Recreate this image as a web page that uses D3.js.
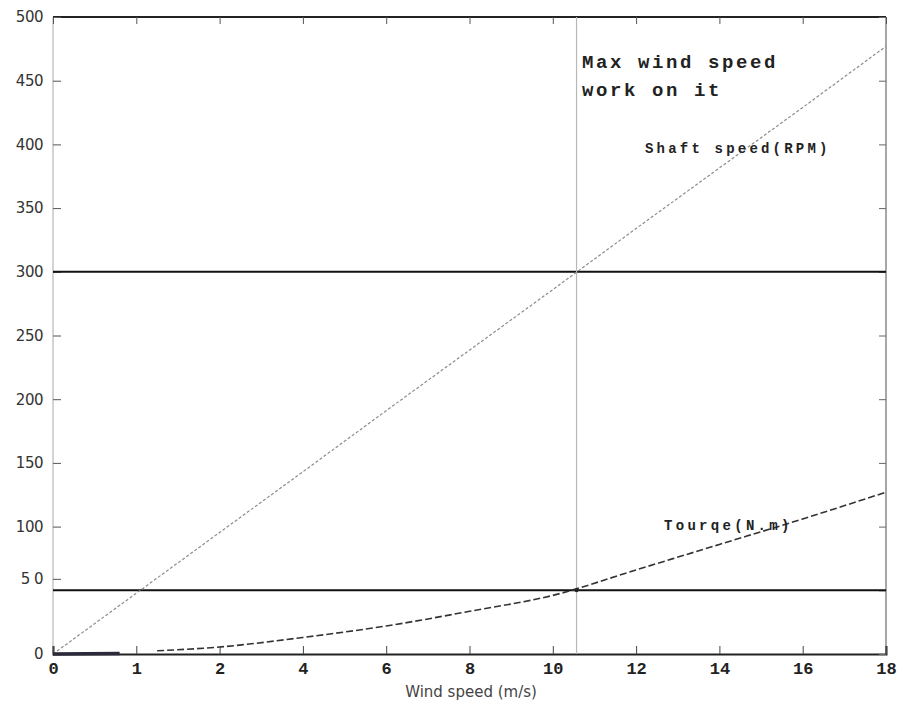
<!DOCTYPE html>
<html>
<head>
<meta charset="utf-8">
<script src="https://cdn.jsdelivr.net/npm/d3@7"></script>
<style>
  body { margin: 0; background: #fff; }
  svg { display: block; }
</style>
</head>
<body>
<div id="chart"></div>
<script>
// wind speed (m/s) where values were read
var shaftX = [0, 1, 2, 4, 6, 8, 10, 12, 14, 16, 18];
var shaftRPM = [0, 47.7, 95.4, 143, 191, 238.5, 286, 334, 381.5, 429, 477];

var torqueX = [0, 0.8, 1.25, 2, 4, 6, 8, 10, 12, 14, 16, 18];
var torqueNm = [0, 0.3, 2.5, 5.5, 13, 22, 33.5, 46, 66, 86, 106, 127];

var xTicks = [0, 1, 2, 4, 6, 8, 10, 12, 14, 16, 18];
var yTicksLeft = [0, 59, 100, 150, 200, 250, 300, 350, 400, 450, 500];
var yLabelsLeft = ["0", "5 0", "100", "150", "200", "250", "300", "350", "400", "450", "500"];
var yTicksRight = [0, 50, 100, 150, 200, 250, 300, 350, 400, 450, 500];

var maxWind = 10.57;
var hLines = [300, 50];

var margin = {top: 17, right: 14, bottom: 52, left: 53},
    width = 900 - margin.left - margin.right,
    height = 706 - margin.top - margin.bottom;

var svg = d3.select("#chart")
  .append("svg")
    .attr("width", 900)
    .attr("height", 706);

var g = svg.append("g")
  .attr("transform", "translate(" + margin.left + "," + margin.top + ")");

// first two intervals are 1 m/s wide, the rest 2 m/s
var x = d3.scaleLinear()
    .domain([0, 2, 18])
    .range([0, width * 0.2, width]);

var y = d3.scaleLinear()
    .domain([0, 500])
    .range([height, 0]);

// frame
g.append("line")
  .attr("x1", 0).attr("x2", 0).attr("y1", 0).attr("y2", height)
  .style("stroke", "#d4d4d4").style("stroke-width", 2);
g.append("line")
  .attr("x1", width).attr("x2", width).attr("y1", 0).attr("y2", height)
  .style("stroke", "#8a8a8a").style("stroke-width", 1.5);
g.append("line")
  .attr("x1", 0).attr("x2", width).attr("y1", 0).attr("y2", 0)
  .style("stroke", "#222").style("stroke-width", 2);

// bottom axis
var xAxis = g.append("g")
  .attr("transform", "translate(0," + height + ")")
  .call(d3.axisBottom(x).tickValues(xTicks).tickSize(-8).tickPadding(8).tickFormat(d3.format("d")));
xAxis.select(".domain").style("stroke", "#222").style("stroke-width", 2);
xAxis.selectAll(".tick line").style("stroke", "#444");
xAxis.selectAll("text")
  .style("font-family", "'Liberation Mono', 'DejaVu Sans Mono', monospace")
  .style("font-weight", "bold")
  .style("font-size", "17px")
  .style("fill", "#222");

// top ticks
g.append("g")
  .call(d3.axisTop(x).tickValues(xTicks).tickSize(-7).tickFormat(""))
  .call(function(a) { a.select(".domain").remove(); })
  .selectAll(".tick line").style("stroke", "#555");

// left axis
var yAxis = g.append("g")
  .call(d3.axisLeft(y).tickValues(yTicksLeft).tickSize(-8).tickPadding(10)
    .tickFormat(function(d, i) { return yLabelsLeft[i]; }));
yAxis.select(".domain").remove();
yAxis.selectAll(".tick line").style("stroke", "#555");
yAxis.selectAll("text")
  .style("font-family", "'DejaVu Sans', sans-serif")
  .style("font-size", "15px")
  .style("letter-spacing", "-0.5px")
  .style("fill", "#333");

// right ticks
g.append("g")
  .attr("transform", "translate(" + width + ",0)")
  .call(d3.axisRight(y).tickValues(yTicksRight).tickSize(-7).tickFormat(""))
  .call(function(a) { a.select(".domain").remove(); })
  .selectAll(".tick line").style("stroke", "#666");

// reference lines
g.selectAll(".hline")
  .data(hLines)
  .enter()
  .append("line")
    .attr("class", "hline")
    .attr("x1", 0).attr("x2", width)
    .attr("y1", function(d) { return y(d); })
    .attr("y2", function(d) { return y(d); })
    .style("stroke", "#111")
    .style("stroke-width", 2);

g.append("line")
  .attr("x1", x(maxWind)).attr("x2", x(maxWind))
  .attr("y1", 0).attr("y2", height)
  .style("stroke", "#b8b8b8")
  .style("stroke-width", 1.2);

// shaft speed
var shaft = shaftX.map(function(d, i) { return {x: d, y: shaftRPM[i]}; });
g.append("path")
  .datum(shaft)
  .attr("d", d3.line().x(function(d) { return x(d.x); }).y(function(d) { return y(d.y); }))
  .style("fill", "none")
  .style("stroke", "#8c8c8c")
  .style("stroke-width", 1.2)
  .style("stroke-dasharray", "3,2");

// torque
var torque = torqueX.map(function(d, i) { return {x: d, y: torqueNm[i]}; });
var tLine = d3.line()
  .curve(d3.curveMonotoneX)
  .x(function(d) { return x(d.x); })
  .y(function(d) { return y(d.y); });

g.append("path")
  .datum(torque.filter(function(d) { return d.x <= 0.8; }))
  .attr("d", tLine)
  .style("fill", "none")
  .style("stroke", "#2a2a3a")
  .style("stroke-width", 3.5);

g.append("path")
  .datum(torque.filter(function(d) { return d.x >= 1.25; }))
  .attr("d", tLine)
  .style("fill", "none")
  .style("stroke", "#333")
  .style("stroke-width", 1.6)
  .style("stroke-dasharray", "7,3");

g.append("circle")
  .attr("cx", x(maxWind))
  .attr("cy", y(50))
  .attr("r", 2)
  .style("fill", "#222");

// annotations
var mono = "'Liberation Mono', 'DejaVu Sans Mono', monospace";
g.append("text")
  .attr("x", 529).attr("y", 51)
  .style("font-family", mono).style("font-weight", "bold")
  .style("font-size", "19px").style("letter-spacing", "2.6px")
  .style("fill", "#222")
  .text("Max wind speed");
g.append("text")
  .attr("x", 529).attr("y", 79)
  .style("font-family", mono).style("font-weight", "bold")
  .style("font-size", "19px").style("letter-spacing", "2.6px")
  .style("fill", "#222")
  .text("work on it");
g.append("text")
  .attr("x", 592).attr("y", 136)
  .style("font-family", mono).style("font-weight", "bold")
  .style("font-size", "14px").style("letter-spacing", "3.2px")
  .style("fill", "#222")
  .text("Shaft speed(RPM)");
g.append("text")
  .attr("x", 611).attr("y", 513)
  .style("font-family", mono).style("font-weight", "bold")
  .style("font-size", "14px").style("letter-spacing", "3.3px")
  .style("fill", "#222")
  .text("Tourqe(N.m)");

// x label
g.append("text")
  .attr("x", 471 - margin.left)
  .attr("y", height + 43)
  .attr("text-anchor", "middle")
  .style("font-family", "'DejaVu Sans', sans-serif")
  .style("font-size", "15px")
  .style("fill", "#444")
  .text("Wind speed (m/s)");
</script>
</body>
</html>
